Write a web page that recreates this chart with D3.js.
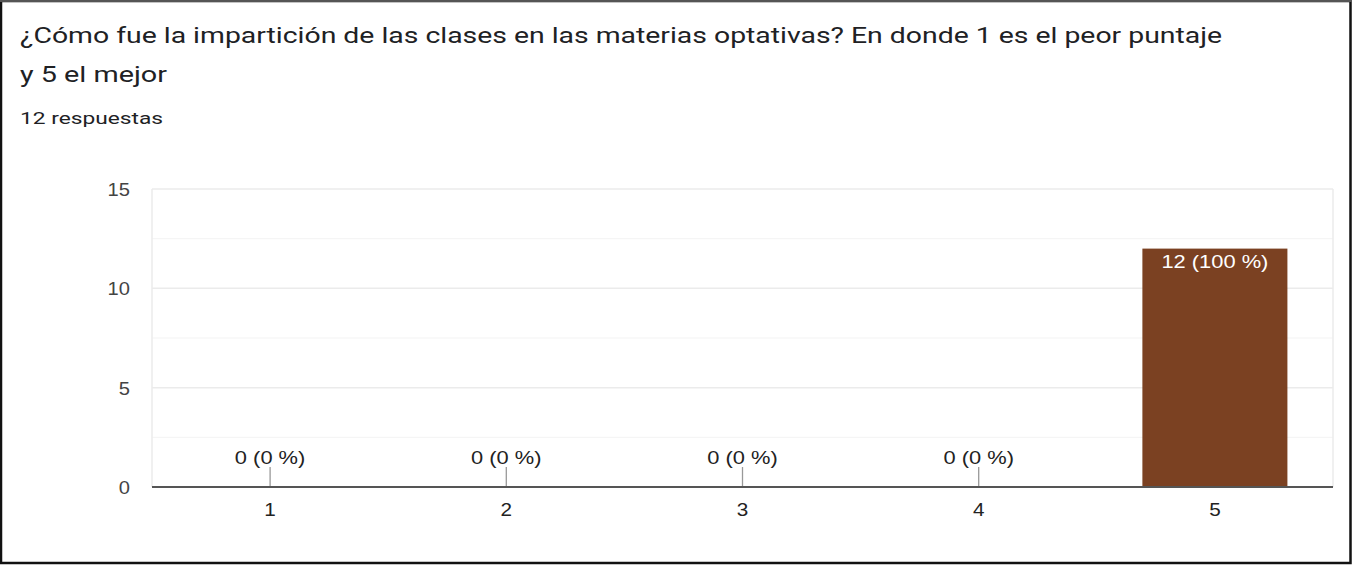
<!DOCTYPE html>
<html><head><meta charset="utf-8">
<script src="https://cdn.jsdelivr.net/npm/d3@7"></script>
<style>
html,body{margin:0;padding:0;background:#fff;}
svg{display:block;}
</style></head>
<body>
<svg id="chart" width="1352" height="565"></svg>
<script>
const titleLines = ["¿Cómo fue la impartición de las clases en las materias optativas? En donde 1 es el peor puntaje", "y 5 el mejor"];
const subtitle = "12 respuestas";
const categories = ["1","2","3","4","5"];
const counts = [0,0,0,0,12];
const labels = ["0 (0 %)","0 (0 %)","0 (0 %)","0 (0 %)","12 (100 %)"];
const yTicks = [0,5,10,15];
const yMinorTicks = [2.5,7.5,12.5];

(function(){
const svg = d3.select("#chart");
const W = 1352, H = 565;
const SX = 1.25; // horizontal stretch of the reference text
svg.append("rect").attr("x",1).attr("y",1).attr("width",W-2.5).attr("height",H-3)
  .attr("fill","#fff").attr("stroke","#111").attr("stroke-width",2.5);
svg.append("line").attr("x1",0).attr("x2",W).attr("y1",1).attr("y2",1).attr("stroke","#555").attr("stroke-width",2);

const titleW = [1202, 147];
const titleY = [43, 82];
svg.selectAll("text.title").data(titleLines).join("text")
  .attr("x",20).attr("y",(d,i)=>titleY[i])
  .attr("font-family","Roboto, 'Open Sans', sans-serif").attr("font-size",22.5)
  .attr("textLength",(d,i)=>titleW[i]).attr("lengthAdjust","spacingAndGlyphs")
  .attr("fill","#202124").text(d=>d);
svg.append("text").attr("x",20).attr("y",124)
  .attr("font-family","Roboto, sans-serif").attr("font-size",17).attr("fill","#202124")
  .attr("textLength",143).attr("lengthAdjust","spacingAndGlyphs").text(subtitle);

const pL=152, pR=1333, pT=189, pB=487;
const x = d3.scaleBand().domain(categories).range([pL,pR]).paddingInner(0.386).paddingOuter(0.193);
const xc = d3.scaleBand().domain(categories).range([pL,pR]);
const y = d3.scaleLinear().domain([0,15]).range([pB,pT]);

function stretchedText(parent, tx, ty, txt, anchor, size, fill, sx){
  parent.append("g").attr("transform",`translate(${tx},${ty}) scale(${sx},1)`)
    .append("text").attr("text-anchor",anchor)
    .attr("font-family","'Liberation Sans', Arial, sans-serif").attr("font-size",size)
    .attr("fill",fill).text(txt);
}

const g = svg.append("g");
g.selectAll("line.minor").data(yMinorTicks).join("line")
  .attr("x1",pL).attr("x2",pR).attr("y1",d=>y(d)).attr("y2",d=>y(d))
  .attr("stroke","#f3f3f3").attr("stroke-width",1);
g.selectAll("line.major").data(yTicks.filter(t=>t>0)).join("line")
  .attr("x1",pL).attr("x2",pR).attr("y1",d=>y(d)).attr("y2",d=>y(d))
  .attr("stroke","#ebebeb").attr("stroke-width",1.5);
g.append("line").attr("x1",pL).attr("x2",pL).attr("y1",pT).attr("y2",pB).attr("stroke","#ebebeb").attr("stroke-width",1.5);
g.append("line").attr("x1",pR).attr("x2",pR).attr("y1",pT).attr("y2",pB).attr("stroke","#ebebeb").attr("stroke-width",1.5);

yTicks.forEach(t=>stretchedText(g,130,y(t)+7,t,"end",18,"#444",1.12));

g.selectAll("rect.bar").data(counts).join("rect")
  .attr("x",(d,i)=>x(categories[i])).attr("width",x.bandwidth())
  .attr("y",d=>y(d)).attr("height",d=>y(0)-y(d))
  .attr("fill","#7b4122");

counts.forEach((d,i)=>{
  const cx = xc(categories[i])+xc.bandwidth()/2;
  if(d===0){
    g.append("line").attr("x1",cx).attr("x2",cx).attr("y1",pB-20).attr("y2",pB)
      .attr("stroke","#999").attr("stroke-width",1.3);
    stretchedText(g,cx,pB-23,labels[i],"middle",17.5,"#222",SX);
  } else {
    stretchedText(g,cx,y(d)+19,labels[i],"middle",17.5,"#fff",SX);
  }
});

g.append("line").attr("x1",pL).attr("x2",pR).attr("y1",pB).attr("y2",pB)
  .attr("stroke","#555").attr("stroke-width",2);

categories.forEach(c=>stretchedText(g,xc(c)+xc.bandwidth()/2,516,c,"middle",18,"#222",1.15));
})();
</script>
</body></html>
